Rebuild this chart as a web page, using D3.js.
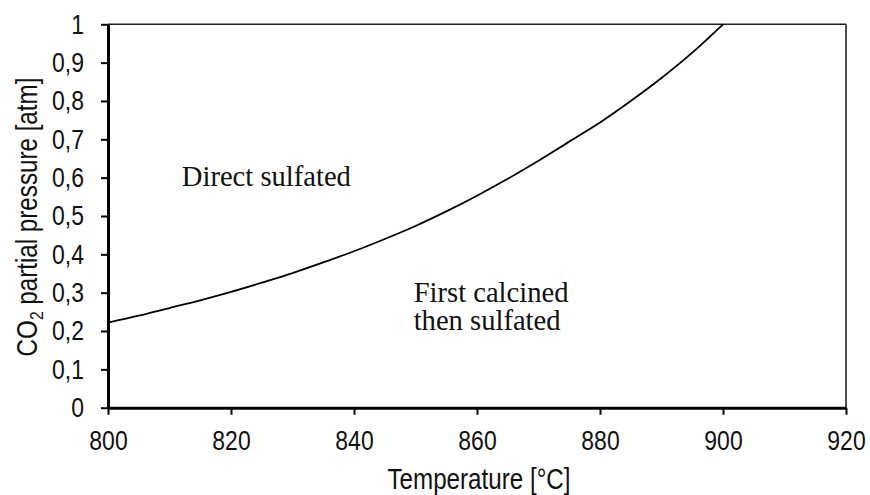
<!DOCTYPE html>
<html><head><meta charset="utf-8">
<script src="https://cdn.jsdelivr.net/npm/d3@7"></script>
<style>
html,body{margin:0;padding:0;background:#fff;}
svg{display:block;}
</style></head>
<body>
<script>
// Data
const temperature = [800,805,810,815,820,825,830,835,840,845,850,855,860,865,870,875,880,885,890,895,900];
const pressure    = [0.222,0.240,0.260,0.280,0.302,0.326,0.351,0.379,0.408,0.440,0.474,0.512,0.553,0.597,0.644,0.694,0.744,0.800,0.860,0.926,1.0];
const xTicks = [800,820,840,860,880,900,920];
const yTicks = [0,0.1,0.2,0.3,0.4,0.5,0.6,0.7,0.8,0.9,1];
const yTickLabels = ["0","0,1","0,2","0,3","0,4","0,5","0,6","0,7","0,8","0,9","1"];
const regionLabels = [
  {lines:["Direct sulfated"], t:812.0, p:0.577},
  {lines:["First calcined","then sulfated"], t:849.7, p:0.276}
];

const W = 870, H = 495;
const SANS = "'Liberation Sans', Arial, sans-serif";
const SERIF = "'Liberation Serif', 'Times New Roman', serif";
const SX = 0.82; // narrow face
const x = d3.scaleLinear().domain([800,920]).range([108,846]);
const y = d3.scaleLinear().domain([0,1]).range([407.7,24.3]);

const svg = d3.select("body").append("svg").attr("width",W).attr("height",H);

// top & right frame
svg.append("line").attr("x1",x(800)).attr("x2",x(920)).attr("y1",y(1)).attr("y2",y(1))
  .attr("stroke","#222").attr("stroke-width",1.4);
svg.append("line").attr("x1",x(920)).attr("x2",x(920)).attr("y1",y(0)).attr("y2",y(1))
  .attr("stroke","#222").attr("stroke-width",1.6);

// x axis
const xAxis = d3.axisBottom(x).tickValues(xTicks).tickSize(7).tickPadding(15).tickSizeOuter(0);
const gx = svg.append("g").attr("transform",`translate(0,${y(0)})`).call(xAxis)
  .attr("font-family",SANS).attr("font-size",28);
gx.select(".domain").attr("stroke","#000").attr("stroke-width",3);
gx.selectAll(".tick line").attr("stroke","#000").attr("stroke-width",2);
gx.selectAll(".tick text").attr("fill","#111").attr("transform",`scale(${SX},1)`);

// y axis
const yAxis = d3.axisLeft(y).tickValues(yTicks).tickFormat((d,i)=>yTickLabels[i]).tickSize(7).tickPadding(17).tickSizeOuter(0);
const gy = svg.append("g").attr("transform",`translate(${x(800)},0)`).call(yAxis)
  .attr("font-family",SANS).attr("font-size",28);
gy.select(".domain").attr("stroke","#000").attr("stroke-width",3);
gy.selectAll(".tick line").attr("stroke","#000").attr("stroke-width",2);
gy.selectAll(".tick text").attr("fill","#111").attr("x",-24/SX).attr("transform",`scale(${SX},1)`);

// curve
const line = d3.line().x((d,i)=>x(temperature[i])).y(d=>y(d)).curve(d3.curveMonotoneX);
svg.append("path").datum(pressure).attr("d",line).attr("fill","none")
  .attr("stroke","#000").attr("stroke-width",1.8);

// region labels
regionLabels.forEach(r=>{
  const t = svg.append("text").attr("font-family",SERIF).attr("font-size",28.6).attr("fill","#111")
    .attr("x",x(r.t)).attr("y",y(r.p));
  r.lines.forEach((l,i)=>t.append("tspan").attr("x",x(r.t)).attr("dy",i===0?0:28.3).text(l));
});

// axis titles
svg.append("text").attr("font-family",SANS).attr("font-size",29.5).attr("fill","#111")
  .attr("text-anchor","middle")
  .attr("transform",`translate(${(x(800)+x(920))/2+2},489) scale(${SX},1)`)
  .text("Temperature [°C]");

const yl = svg.append("text").attr("font-family",SANS).attr("font-size",29.5).attr("fill","#111")
  .attr("text-anchor","middle")
  .attr("transform",`translate(37,${(y(0)+y(1))/2+1}) rotate(-90) scale(${SX},1)`);
yl.append("tspan").text("CO");
yl.append("tspan").attr("font-size",19).attr("dy",6).text("2");
yl.append("tspan").attr("dy",-6).text(" partial pressure [atm]");
</script>
</body></html>
